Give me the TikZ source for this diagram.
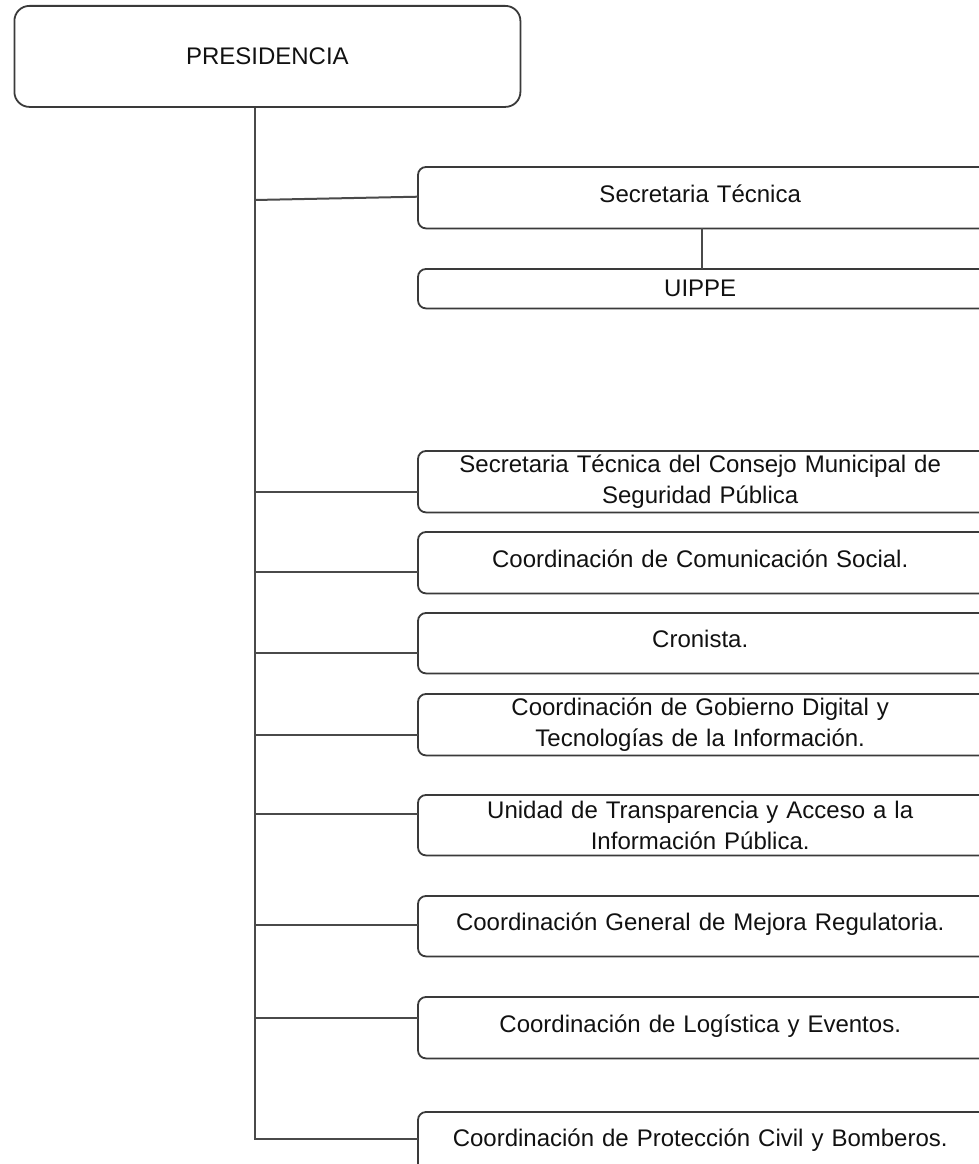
\documentclass[tikz,border=0pt]{standalone}
\usepackage{fontspec}
\setmainfont{Liberation Sans}
\definecolor{boxline}{HTML}{3A3A3A}
\definecolor{linkline}{HTML}{4A4A4A}
\definecolor{txt}{HTML}{111111}
\begin{document}
\begin{tikzpicture}[x=1pt,y=-1pt,
  unit/.style={anchor=north west, text width=564pt, inner sep=0pt,
    align=center, text=txt, font=\fontsize{24}{31.5}\selectfont},
  oneline/.style={unit, text height=17pt, text depth=8pt},
  frame/.style={draw=boxline, line width=1.8pt, rounded corners=8pt},
  head/.style={draw=boxline, line width=1.8pt, rounded corners=15pt,
    anchor=north west, minimum width=506pt, minimum height=101pt,
    text=txt, font=\fontsize{24}{31.5}\selectfont},
  link/.style={draw=linkline, line width=2pt}]
\useasboundingbox (0,0) rectangle (979,1164);
\clip (0,0) rectangle (979,1164);

% top unit
\node[head] (pres) at (13.5,5) {PRESIDENCIA};

% dependent units (frames run past the right edge of the page)
\node[oneline, minimum height=61pt] (st)      at (418,167)  {Secretaria Técnica};
\node[unit,    minimum height=39pt] (uippe)   at (418,269)  {UIPPE};
\node[unit,    minimum height=61pt] (consejo) at (418,451)  {Secretaria Técnica del Consejo Municipal de\\Seguridad Pública};
\node[oneline, minimum height=61pt] (comsoc)  at (418,532)  {Coordinación de Comunicación Social.};
\node[oneline, minimum height=60pt] (cron)    at (418,613)  {Cronista.};
\node[unit,    minimum height=61pt] (gob)     at (418,694)  {Coordinación de Gobierno Digital y\\Tecnologías de la Información.};
\node[unit,    minimum height=60pt] (transp)  at (418,795)  {Unidad de Transparencia y Acceso a la\\Información Pública.};
\node[oneline, minimum height=60pt] (mejora)  at (418,896)  {Coordinación General de Mejora Regulatoria.};
\node[oneline, minimum height=61pt] (logis)   at (418,997)  {Coordinación de Logística y Eventos.};
\node[oneline, minimum height=60pt] (prot)    at (418,1112) {Coordinación de Protección Civil y Bomberos.};

\foreach \u in {st,uippe,consejo,comsoc,cron,gob,transp,mejora,logis,prot}
  \draw[frame] (\u.south west) rectangle ([xshift=40pt]\u.north east);

% branch points on the trunk
\coordinate (jst)  at (255,200);
\coordinate (jcon) at (255,492);
\coordinate (jcom) at (255,572);
\coordinate (jcro) at (255,653);
\coordinate (jgob) at (255,735);
\coordinate (jtra) at (255,814);
\coordinate (jmej) at (255,925);
\coordinate (jlog) at (255,1018);
\coordinate (jend) at (255,1139);

% trunk and its end turn
\draw[link] (pres.south -| jend) -- (jend) -- (jend -| prot.west);

% branches
\draw[link] (jst) -- ([yshift=1pt]st.west);
\draw[link] (jcon) -- (jcon -| consejo.west);
\draw[link] (jcom) -- (jcom -| comsoc.west);
\draw[link] (jcro) -- (jcro -| cron.west);
\draw[link] (jgob) -- (jgob -| gob.west);
\draw[link] (jtra) -- (jtra -| transp.west);
\draw[link] (jmej) -- (jmej -| mejora.west);
\draw[link] (jlog) -- (jlog -| logis.west);

% Secretaria Tecnica to UIPPE
\draw[link] ([xshift=2pt]st.south) -- ([xshift=2pt]st.south |- uippe.north);
\end{tikzpicture}
\end{document}
